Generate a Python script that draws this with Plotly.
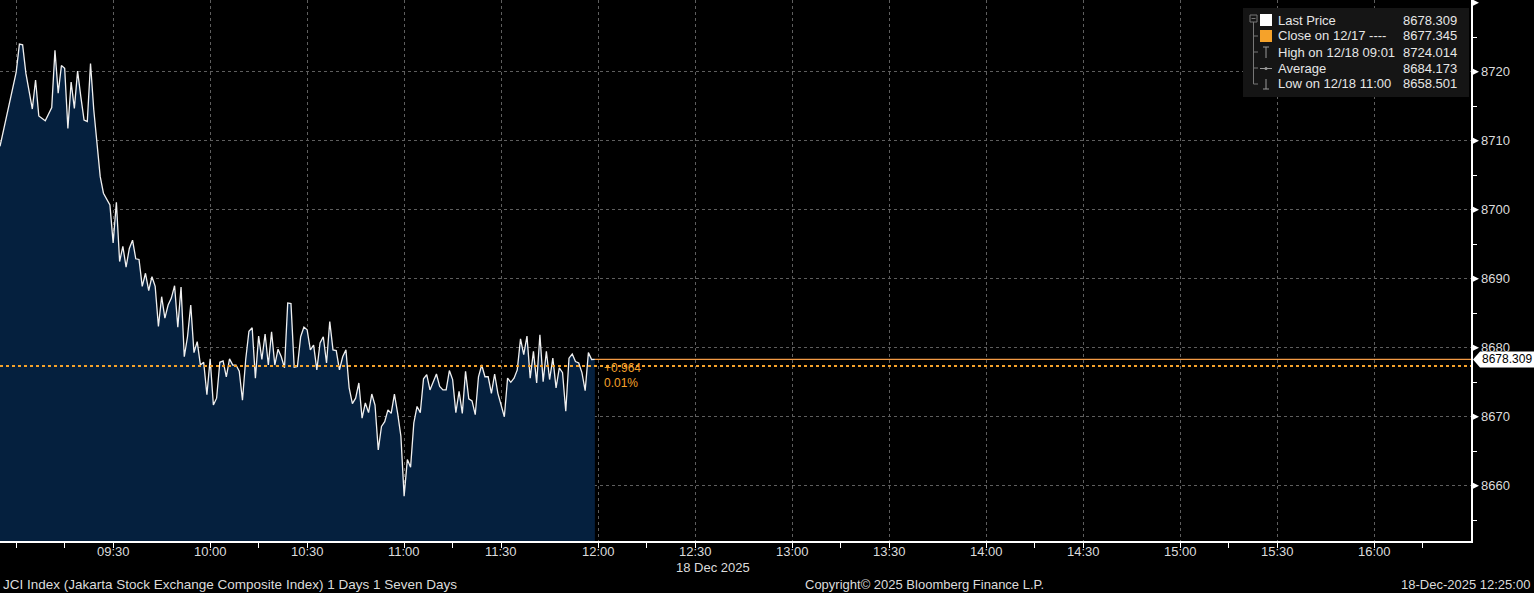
import plotly.graph_objects as go

day = "2025-12-18"

times = [
    "08:55", "09:00", "09:01", "09:02", "09:03", "09:05", "09:06", "09:07", "09:09", "09:10",
    "09:11", "09:12", "09:13", "09:14", "09:15", "09:16", "09:17", "09:18", "09:19", "09:20",
    "09:21", "09:22", "09:23", "09:24", "09:25", "09:26", "09:27", "09:29", "09:30", "09:31",
    "09:32", "09:33", "09:34", "09:35", "09:36", "09:37", "09:38", "09:39", "09:40", "09:41",
    "09:42", "09:43", "09:44", "09:45", "09:46", "09:47", "09:48", "09:49", "09:50", "09:51",
    "09:52", "09:53", "09:54", "09:55", "09:56", "09:57", "09:58", "09:59", "10:00", "10:01",
    "10:02", "10:03", "10:04", "10:05", "10:06", "10:07", "10:08", "10:09", "10:10", "10:11",
    "10:12", "10:13", "10:14", "10:15", "10:16", "10:17", "10:18", "10:19", "10:20", "10:21",
    "10:22", "10:23", "10:24", "10:25", "10:26", "10:27", "10:28", "10:29", "10:30", "10:31",
    "10:32", "10:33", "10:34", "10:35", "10:36", "10:37", "10:38", "10:39", "10:40", "10:41",
    "10:42", "10:43", "10:44", "10:45", "10:46", "10:47", "10:48", "10:49", "10:50", "10:51",
    "10:52", "10:53", "10:54", "10:55", "10:56", "10:57", "10:58", "10:59", "11:00", "11:01",
    "11:02", "11:03", "11:04", "11:05", "11:06", "11:07", "11:08", "11:09", "11:10", "11:11",
    "11:12", "11:13", "11:14", "11:15", "11:16", "11:17", "11:18", "11:19", "11:20", "11:21",
    "11:22", "11:23", "11:24", "11:25", "11:26", "11:27", "11:28", "11:29", "11:30", "11:31",
    "11:32", "11:33", "11:34", "11:35", "11:36", "11:37", "11:38", "11:39", "11:40", "11:41",
    "11:42", "11:43", "11:44", "11:45", "11:46", "11:47", "11:48", "11:49", "11:50", "11:51",
    "11:52", "11:53", "11:54", "11:55", "11:56", "11:57", "11:58", "11:59",
]

prices = [
    8709.2, 8719.9, 8724.0, 8723.9, 8719.8, 8714.6, 8718.8, 8713.6, 8712.9, 8713.8,
    8714.8, 8723.1, 8716.9, 8720.9, 8720.5, 8711.8, 8718.5, 8714.7, 8720.1, 8716.4,
    8713.0, 8712.8, 8721.2, 8714.5, 8709.2, 8704.8, 8702.4, 8700.7, 8695.2, 8701.1,
    8692.5, 8694.7, 8691.7, 8694.4, 8695.6, 8692.9, 8692.8, 8688.9, 8690.8, 8688.3,
    8690.3, 8688.9, 8683.1, 8687.4, 8684.3, 8686.2, 8687.2, 8689.0, 8683.0, 8688.8,
    8678.7, 8681.6, 8686.2, 8679.3, 8680.9, 8677.5, 8677.9, 8673.2, 8678.4, 8671.7,
    8672.7, 8677.9, 8678.1, 8675.8, 8678.4, 8677.5, 8677.5, 8676.6, 8672.4, 8678.3,
    8682.4, 8682.9, 8675.6, 8681.7, 8678.3, 8682.0, 8677.5, 8682.3, 8677.5, 8679.8,
    8678.7, 8677.1, 8686.5, 8686.4, 8677.2, 8677.3, 8681.6, 8683.0, 8682.6, 8679.7,
    8680.4, 8676.8, 8680.7, 8681.6, 8677.8, 8683.8, 8679.7, 8679.6, 8676.8, 8678.7,
    8679.7, 8674.2, 8671.9, 8672.7, 8674.9, 8669.8, 8672.0, 8670.6, 8673.3, 8671.7,
    8665.2, 8668.6, 8669.3, 8671.0, 8670.5, 8673.3, 8670.5, 8667.2, 8658.5, 8663.8,
    8662.7, 8669.1, 8671.5, 8670.6, 8675.5, 8676.1, 8673.9, 8675.1, 8676.2, 8674.4,
    8673.9, 8673.9, 8676.7, 8675.4, 8670.6, 8673.7, 8670.5, 8676.6, 8672.6, 8672.3,
    8670.3, 8675.8, 8677.5, 8675.8, 8675.8, 8673.4, 8676.2, 8673.4, 8671.7, 8670.0,
    8675.6, 8675.0, 8675.6, 8676.8, 8681.3, 8679.0, 8681.7, 8675.6, 8679.5, 8674.9,
    8681.9, 8675.1, 8679.5, 8675.4, 8678.5, 8674.2, 8677.1, 8676.4, 8670.8, 8678.5,
    8679.1, 8678.0, 8677.8, 8676.4, 8673.8, 8679.3, 8678.3, 8678.309,
]

last_price = 8678.309
prev_close = 8677.345
change = "+0.964"
change_pct = "0.01%"

x_ticks = ["09:00", "09:30", "10:00", "10:30", "11:00", "11:30", "12:00", "12:30",
           "13:00", "13:30", "14:00", "14:30", "15:00", "15:30", "16:00"]
y_ticks = [8660, 8670, 8680, 8690, 8700, 8710, 8720, 8730]

legend_rows = [
    ("Last Price", "8678.309"),
    ("Close on 12/17 ----", "8677.345"),
    ("High on 12/18 09:01", "8724.014"),
    ("Average", "8684.173"),
    ("Low on 12/18 11:00", "8658.501"),
]

Y_MIN, Y_MAX = 8652.0, 8730.4

# plot area in pixels (used to place the overlay bits)
PW, PH = 1471, 541
def px(v):
    return v / PW
def py(v):
    return 1 - v / PH
def pv(value):
    # paper y of an axis value
    return (value - Y_MIN) / (Y_MAX - Y_MIN)

font = "Liberation Sans, Arial, sans-serif"
txt = "#dcdcdc"
orange = "#f5a22a"

x = [f"{day} {t}" for t in times]

fig = go.Figure()
fig.add_trace(go.Scatter(
    x=x, y=prices, mode="lines",
    line=dict(color="#f0f0f0", width=1.3),
    fill="tozeroy", fillcolor="#05203e",
    hoverinfo="x+y", showlegend=False,
))

shapes = [
    # previous close, dotted
    dict(type="line", xref="paper", yref="y", x0=0, x1=1, y0=prev_close, y1=prev_close,
         line=dict(color=orange, width=2, dash="dot"), layer="above"),
    # last price level from end of data
    dict(type="line", xref="x", yref="y", x0=x[-1], x1=f"{day} 16:30",
         y0=last_price, y1=last_price, line=dict(color="#f39a45", width=1.2), layer="above"),
    # last price tag on the axis
    dict(type="path", xref="paper", yref="paper", layer="above",
         path=f"M {px(1473)} {py(359.5)} L {px(1480)} {py(351.5)} L {px(1534)} {py(351.5)} "
              f"L {px(1534)} {py(367.5)} L {px(1480)} {py(367.5)} Z",
         fillcolor="#ffffff", line=dict(width=0)),
    # legend box
    dict(type="rect", xref="paper", yref="paper", x0=px(1243), x1=px(1469), y0=py(97), y1=py(8),
         fillcolor="#151515", line=dict(width=0), layer="above"),
    # tree
    dict(type="rect", xref="paper", yref="paper", x0=px(1250), x1=px(1257), y0=py(22), y1=py(15),
         line=dict(color="#777777", width=1), layer="above"),
    dict(type="line", xref="paper", yref="paper", x0=px(1251.5), x1=px(1255.5), y0=py(18.5), y1=py(18.5),
         line=dict(color="#777777", width=1), layer="above"),
    dict(type="line", xref="paper", yref="paper", x0=px(1253.5), x1=px(1253.5), y0=py(22), y1=py(84),
         line=dict(color="#777777", width=1), layer="above"),
    # icons
    dict(type="rect", xref="paper", yref="paper", x0=px(1260), x1=px(1272), y0=py(26), y1=py(14),
         fillcolor="#ffffff", line=dict(width=0), layer="above"),
    dict(type="rect", xref="paper", yref="paper", x0=px(1260), x1=px(1272), y0=py(42), y1=py(30),
         fillcolor=orange, line=dict(width=0), layer="above"),
    dict(type="line", xref="paper", yref="paper", x0=px(1263), x1=px(1269), y0=py(47), y1=py(47),
         line=dict(color="#999999", width=1), layer="above"),
    dict(type="line", xref="paper", yref="paper", x0=px(1266), x1=px(1266), y0=py(47), y1=py(58),
         line=dict(color="#999999", width=1), layer="above"),
    dict(type="line", xref="paper", yref="paper", x0=px(1260), x1=px(1272), y0=py(68.5), y1=py(68.5),
         line=dict(color="#999999", width=1), layer="above"),
    dict(type="circle", xref="paper", yref="paper", x0=px(1264.5), x1=px(1267.5), y0=py(70), y1=py(67),
         fillcolor="#999999", line=dict(width=0), layer="above"),
    dict(type="line", xref="paper", yref="paper", x0=px(1266), x1=px(1266), y0=py(79), y1=py(89),
         line=dict(color="#999999", width=1), layer="above"),
    dict(type="line", xref="paper", yref="paper", x0=px(1263), x1=px(1269), y0=py(89), y1=py(89),
         line=dict(color="#999999", width=1), layer="above"),
]
for ry in (36, 52, 68, 84):
    shapes.append(dict(type="line", xref="paper", yref="paper", x0=px(1253.5), x1=px(1258),
                       y0=py(ry), y1=py(ry), line=dict(color="#777777", width=1), layer="above"))

# right-axis arrow ticks
half = 4 / PH
for v in y_ticks:
    c = pv(v)
    shapes.append(dict(type="path", xref="paper", yref="paper", layer="above",
                       path=f"M {px(1471)} {c - half} L {px(1479)} {c} L {px(1471)} {c + half} Z",
                       fillcolor="#ffffff", line=dict(width=0)))

annotations = []
row_y = [20, 36, 52, 68, 84]
for (label, value), ry in zip(legend_rows, row_y):
    annotations.append(dict(xref="paper", yref="paper", x=px(1276), y=py(ry), text=label,
                            xanchor="left", yanchor="middle", showarrow=False,
                            font=dict(family=font, size=13, color="#e6e6e6")))
    annotations.append(dict(xref="paper", yref="paper", x=px(1459), y=py(ry), text=value,
                            xanchor="right", yanchor="middle", showarrow=False,
                            font=dict(family=font, size=13, color="#e6e6e6")))

# y tick labels (8730 has only the arrow)
for v in y_ticks[:-1]:
    annotations.append(dict(xref="paper", yref="y", x=px(1479), y=v, text=str(v),
                            xanchor="left", yanchor="middle", showarrow=False,
                            font=dict(family=font, size=13, color=txt)))

# x tick labels (09:00 is not labelled)
for t in x_ticks[1:]:
    annotations.append(dict(xref="x", yref="paper", x=f"{day} {t}", y=py(551), text=t,
                            xanchor="center", yanchor="middle", showarrow=False,
                            font=dict(family=font, size=13, color=txt)))

annotations += [
    dict(xref="paper", yref="y", x=px(1480), y=last_price, text=f"{last_price:.3f}",
         xanchor="left", yanchor="middle", showarrow=False,
         font=dict(family=font, size=12, color="#000000")),
    dict(xref="paper", yref="paper", x=px(602), y=py(368), text=change,
         xanchor="left", yanchor="middle", showarrow=False,
         font=dict(family=font, size=12, color=orange)),
    dict(xref="paper", yref="paper", x=px(602), y=py(383), text=change_pct,
         xanchor="left", yanchor="middle", showarrow=False,
         font=dict(family=font, size=12, color=orange)),
    dict(xref="paper", yref="paper", x=px(713), y=py(567), text="18 Dec 2025",
         xanchor="center", yanchor="middle", showarrow=False,
         font=dict(family=font, size=13, color=txt)),
    dict(xref="paper", yref="paper", x=px(1), y=py(584),
         text="JCI Index (Jakarta Stock Exchange Composite Index) 1 Days 1 Seven Days",
         xanchor="left", yanchor="middle", showarrow=False,
         font=dict(family=font, size=13.5, color=txt)),
    dict(xref="paper", yref="paper", x=px(924), y=py(584),
         text="Copyright\u00a9 2025 Bloomberg Finance L.P.",
         xanchor="center", yanchor="middle", showarrow=False,
         font=dict(family=font, size=13, color=txt)),
    dict(xref="paper", yref="paper", x=px(1532), y=py(584), text="18-Dec-2025 12:25:00",
         xanchor="right", yanchor="middle", showarrow=False,
         font=dict(family=font, size=13, color=txt)),
]

fig.update_layout(
    width=1534, height=593,
    margin=dict(l=0, r=63, t=0, b=52, autoexpand=False),
    paper_bgcolor="#000000", plot_bgcolor="#000000",
    shapes=shapes, annotations=annotations,
    xaxis=dict(
        type="date",
        range=[f"{day} 08:55", f"{day} 16:30"],
        tickmode="array",
        tickvals=[f"{day} {t}" for t in x_ticks],
        showticklabels=False,
        ticks="outside", ticklen=5, tickcolor="#ffffff", tickwidth=1,
        minor=dict(tickmode="array",
                   tickvals=[f"{day} {h:02d}:15" for h in range(9, 17)],
                   ticks="outside", ticklen=5, tickcolor="#ffffff", showgrid=False),
        showgrid=True, gridcolor="#5e5e5e", griddash="dot", gridwidth=1,
        showline=True, linecolor="#ffffff", linewidth=1.5,
        zeroline=False,
    ),
    yaxis=dict(
        side="right",
        range=[Y_MIN, Y_MAX],
        tickmode="array",
        tickvals=y_ticks[:-1],
        showticklabels=False,
        ticks="",
        minor=dict(tickmode="array", tickvals=[8655 + 10 * i for i in range(8)],
                   ticks="outside", ticklen=4, tickcolor="#ffffff", showgrid=False),
        showgrid=True, gridcolor="#5e5e5e", griddash="dot", gridwidth=1,
        showline=True, linecolor="#ffffff", linewidth=1.5,
        zeroline=False,
    ),
)

fig.write_html("out.html", config={"displayModeBar": False},
               post_script="document.body.style.margin = '0';")
